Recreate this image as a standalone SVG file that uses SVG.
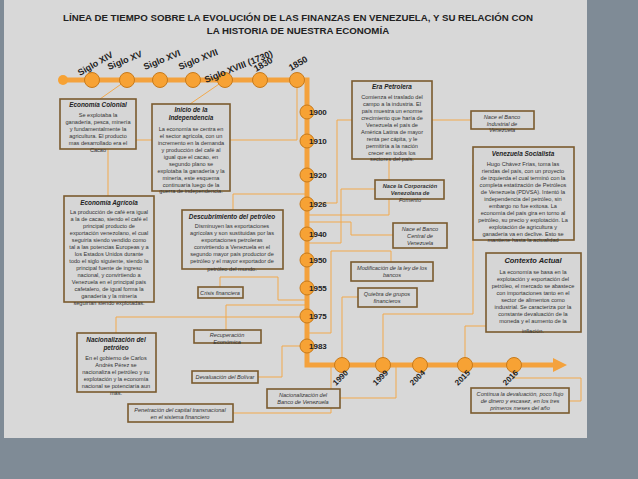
<svg xmlns="http://www.w3.org/2000/svg" width="638" height="479" viewBox="0 0 638 479">
<style>
.b{fill:#d6d6d6;stroke:#7a5a2e;stroke-width:1.6}
.t{font-family:"Liberation Sans",Arial,sans-serif;font-size:5.6px;fill:#333;text-anchor:middle}
.h{font-family:"Liberation Sans",Arial,sans-serif;font-size:6.4px;font-weight:bold;font-style:italic;fill:#222;text-anchor:middle}
.i{font-family:"Liberation Sans",Arial,sans-serif;font-size:5.6px;font-style:italic;fill:#333;text-anchor:middle}
.y{font-family:"Liberation Sans",Arial,sans-serif;font-size:8px;font-weight:bold;fill:#222}
.c{fill:#f7a234;stroke:#c87a1a;stroke-width:1}
.k{fill:none;stroke:#f2a94c;stroke-width:1}
</style>
<rect width="638" height="479" fill="#7f8b96"/>
<rect x="4" y="0" width="583" height="438" fill="#d8d8d8"/>
<g class="y" text-anchor="middle" fill="#1e2a3a"><text x="298" y="21" style="font-size:9.7px">LÍNEA DE TIEMPO SOBRE LA EVOLUCIÓN DE LAS FINANZAS EN VENEZUELA, Y SU RELACIÓN CON</text><text x="298" y="34" style="font-size:9.7px">LA HISTORIA DE NUESTRA ECONOMÍA</text></g>
<g id="connectors" class="k">
<path d="M127 80L100 99M225 80L190 104M297 80V140H108V196M307 194H233V210M307 300H278V277H220V287M307 305H226V330M307 317H116V333M307 346H282V377H258M233 413H331V365M340 398H396V365M307 203H337V120H471M307 215H389V159M307 243H341V189H375M307 222H351V235H393M307 333H331V251H391V262M342 365V297H358M383 365V314H473V165M465 365V326H486M514 365V378H581V401H569"/>
</g>
<g id="timeline">
<path d="M63 80H307V365H555" fill="none" stroke="#f4a23d" stroke-width="5"/>
<path d="M553 358L567 365L553 372Z" fill="#f4a23d"/>
<circle cx="63" cy="80" r="5" fill="#f7a234"/>
<g class="c"><circle cx="92" cy="80" r="7.5"/><circle cx="127" cy="80" r="7.5"/><circle cx="160" cy="80" r="7.5"/><circle cx="193" cy="80" r="7.5"/><circle cx="225" cy="80" r="7.5"/><circle cx="260" cy="80" r="7.5"/><circle cx="297" cy="80" r="7.5"/>
<circle cx="307" cy="112" r="7"/><circle cx="307" cy="141" r="7"/><circle cx="307" cy="175" r="7"/><circle cx="307" cy="204" r="7"/><circle cx="307" cy="234" r="7"/><circle cx="307" cy="260" r="7"/><circle cx="307" cy="288" r="7"/><circle cx="307" cy="316" r="7"/><circle cx="307" cy="346" r="7"/>
<circle cx="342" cy="365" r="7.5"/><circle cx="383" cy="365" r="7.5"/><circle cx="420" cy="365" r="7.5"/><circle cx="465" cy="365" r="7.5"/><circle cx="514" cy="365" r="7.5"/></g>
<g class="y" style="font-size:9px"><text transform="translate(80,76) rotate(-30)">Siglo XIV</text><text transform="translate(109,70) rotate(-22)">Siglo XV</text><text transform="translate(145,70) rotate(-22)">Siglo XVI</text><text transform="translate(180,70) rotate(-22)">Siglo XVII</text><text transform="translate(206,83) rotate(-22)">Siglo XVIII (1730)</text><text transform="translate(256,72) rotate(-30)">1830</text><text transform="translate(291,71) rotate(-30)">1850</text></g>
<g class="y"><text x="309" y="115">1900</text><text x="309" y="144">1910</text><text x="309" y="178">1920</text><text x="309" y="207">1926</text><text x="309" y="237">1940</text><text x="309" y="263">1950</text><text x="309" y="291">1955</text><text x="309" y="319">1975</text><text x="309" y="349">1983</text>
<text transform="translate(336,386) rotate(-45)">1990</text><text transform="translate(376,386) rotate(-45)">1999</text><text transform="translate(413,386) rotate(-45)">2004</text><text transform="translate(458,386) rotate(-45)">2015</text><text transform="translate(506,386) rotate(-45)">2016</text></g>
</g>
<g id="n1"><rect class="b" x="60" y="99" width="76" height="50"/><text class="h" x="98" y="107">Economía Colonial</text><text class="t" x="98" y="117">Se explotaba la</text><text class="t" x="98" y="124">ganadería, pesca, minería</text><text class="t" x="98" y="131">y fundamentalmente la</text><text class="t" x="98" y="138">agricultura. El producto</text><text class="t" x="98" y="145">mas desarrollado era el</text><text class="t" x="98" y="152">Cacao</text></g>
<g id="n2"><rect class="b" x="152" y="104" width="78" height="87"/><text class="h" x="191" y="112">Inicio de la</text><text class="h" x="191" y="120">Independencia</text><text class="t" x="191" y="131">La economía se centra en</text><text class="t" x="191" y="138">el sector agrícola, con un</text><text class="t" x="191" y="145">incremento en la demanda</text><text class="t" x="191" y="152">y producción del café al</text><text class="t" x="191" y="159">igual que el cacao,  en</text><text class="t" x="191" y="166">segundo plano se</text><text class="t" x="191" y="173">explotaba la ganadería y la</text><text class="t" x="191" y="180">minería, este esquema</text><text class="t" x="191" y="187">continuaría luego de la</text><text class="t" x="191" y="193">guerra de independencia.</text></g>
<g id="n3"><rect class="b" x="64" y="196" width="90" height="106"/><text class="h" x="109" y="205">Economía Agrícola</text><text class="t" x="109" y="214">La producción de café era igual</text><text class="t" x="109" y="221">a la de cacao, siendo el café el</text><text class="t" x="109" y="228">principal producto de</text><text class="t" x="109" y="235">exportación venezolano, el cual</text><text class="t" x="109" y="242">seguiría siendo vendido como</text><text class="t" x="109" y="249">tal a las potencias Europeas y a</text><text class="t" x="109" y="256">los Estados Unidos durante</text><text class="t" x="109" y="263">todo el siglo siguiente, siendo la</text><text class="t" x="109" y="270">principal fuente de ingreso</text><text class="t" x="109" y="277">nacional, y convirtiendo a</text><text class="t" x="109" y="284">Venezuela en el principal país</text><text class="t" x="109" y="291">cafetalero, de igual forma la</text><text class="t" x="109" y="298">ganadería y la minería</text><text class="t" x="109" y="305">seguirían siendo explotadas.</text></g>
<g id="n4"><rect class="b" x="182" y="210" width="101" height="59"/><text class="h" x="232" y="219">Descubrimiento del petróleo</text><text class="t" x="232" y="228">Disminuyen las exportaciones</text><text class="t" x="232" y="235">agrícolas y son sustituidas por las</text><text class="t" x="232" y="242">exportaciones petroleras</text><text class="t" x="232" y="249">convirtiendo a Venezuela en el</text><text class="t" x="232" y="256">segundo mayor país productor de</text><text class="t" x="232" y="263">petróleo y el mayor exportador de</text><text class="t" x="232" y="271">petróleo del mundo.</text></g>
<g id="n5"><rect class="b" x="198" y="287" width="45" height="11"/><text class="i" x="220" y="295">Crisis financiera</text></g>
<g id="n6"><rect class="b" x="194" y="330" width="67" height="13"/><text class="i" x="227" y="337">Recuperación</text><text class="i" x="227" y="344">Económica</text></g>
<g id="n7"><rect class="b" x="77" y="333" width="79" height="59"/><text class="h" x="116" y="342">Nacionalización del</text><text class="h" x="116" y="350">petróleo</text><text class="t" x="116" y="360">En el gobierno de Carlos</text><text class="t" x="116" y="367">Andrés Pérez  se</text><text class="t" x="116" y="374">nacionaliza el petróleo y su</text><text class="t" x="116" y="381">explotación y la economía</text><text class="t" x="116" y="388">nacional se potenciaría aun</text><text class="t" x="116" y="395">más.</text></g>
<g id="n8"><rect class="b" x="192" y="371" width="66" height="12"/><text class="i" x="225" y="379">Devaluación del Bolívar</text></g>
<g id="n9"><rect class="b" x="128" y="404" width="105" height="18"/><text class="i" x="180" y="412">Penetración del capital transnacional</text><text class="i" x="180" y="419">en el sistema financiero</text></g>
<g id="n10"><rect class="b" x="267" y="389" width="73" height="19"/><text class="i" x="303" y="397">Nacionalización del</text><text class="i" x="303" y="404">Banco de Venezuela</text></g>
<g id="n11"><rect class="b" x="352" y="81" width="80" height="78"/><text class="h" x="392" y="89">Era Petrolera</text><text class="t" x="392" y="99">Comienza el traslado del</text><text class="t" x="392" y="106">campo a la industria. El</text><text class="t" x="392" y="113">país muestra un enorme</text><text class="t" x="392" y="120">crecimiento que haría de</text><text class="t" x="392" y="127">Venezuela el país de</text><text class="t" x="392" y="134">América Latina de mayor</text><text class="t" x="392" y="141">renta per cápita, y le</text><text class="t" x="392" y="148">permitiría a la nación</text><text class="t" x="392" y="155">crecer en todos los</text><text class="t" x="392" y="161">sectores del país.</text></g>
<g id="n12"><rect class="b" x="471" y="111" width="63" height="18"/><text class="i" x="502" y="119">Nace el Banco</text><text class="i" x="502" y="126">Industrial de</text><text class="i" x="502" y="132">Venezuela</text></g>
<g id="n13"><rect class="b" x="473" y="147" width="101" height="93"/><text class="h" x="523" y="156">Venezuela Socialista</text><text class="t" x="523" y="166">Hugo Chávez Frías,  toma las</text><text class="t" x="523" y="173">riendas del país, con un proyecto</text><text class="t" x="523" y="180">de izquierda el cual terminó con la</text><text class="t" x="523" y="187">completa estatización de Petróleos</text><text class="t" x="523" y="194">de Venezuela (PDVSA). Intentó la</text><text class="t" x="523" y="201">independencia del petróleo, sin</text><text class="t" x="523" y="208">embargo no fue exitosa. La</text><text class="t" x="523" y="215">economía del país gira en torno al</text><text class="t" x="523" y="222">petróleo, su precio y explotación. La</text><text class="t" x="523" y="229">explotación de agricultura y</text><text class="t" x="523" y="236">ganadería va en declive. Esto se</text><text class="t" x="523" y="242">mantiene hasta la actualidad</text></g>
<g id="n14"><rect class="b" x="375" y="180" width="69" height="19"/><text class="i" x="410" y="188" font-weight="bold">Nace la Corporación</text><text class="i" x="410" y="195" font-weight="bold">Venezolana de</text><text class="i" x="410" y="202">Fomento</text></g>
<g id="n15"><rect class="b" x="393" y="223" width="54" height="25"/><text class="i" x="420" y="231">Nace el Banco</text><text class="i" x="420" y="238">Central de</text><text class="i" x="420" y="245">Venezuela</text></g>
<g id="n16"><rect class="b" x="351" y="262" width="82" height="19"/><text class="i" x="392" y="270">Modificación de la ley de los</text><text class="i" x="392" y="277">bancos</text></g>
<g id="n17"><rect class="b" x="358" y="288" width="59" height="19"/><text class="i" x="387" y="296">Quiebra de grupos</text><text class="i" x="387" y="303">financieros</text></g>
<g id="n18"><rect class="b" x="486" y="253" width="95" height="79"/><text x="533" y="263" font-family="Liberation Sans,Arial,sans-serif" font-size="7.5" font-weight="bold" font-style="italic" text-anchor="middle" fill="#222">Contexto Actual</text><text class="t" x="533" y="274">La economía se basa en la</text><text class="t" x="533" y="281">explotación y exportación del</text><text class="t" x="533" y="288">petróleo, el mercado se abastece</text><text class="t" x="533" y="295">con importaciones tanto en el</text><text class="t" x="533" y="302">sector de alimentos como</text><text class="t" x="533" y="309">industrial. Se caracteriza por la</text><text class="t" x="533" y="316">constante devaluación de la</text><text class="t" x="533" y="323">moneda y el aumento de la</text><text class="t" x="533" y="333">inflación.</text></g>
<g id="n19"><rect class="b" x="471" y="388" width="98" height="25"/><text class="i" x="520" y="396">Continua la devaluación, poco flujo</text><text class="i" x="520" y="403">de dinero y escasez, en los tres</text><text class="i" x="520" y="410">primeros meses del año</text></g>
</svg>
